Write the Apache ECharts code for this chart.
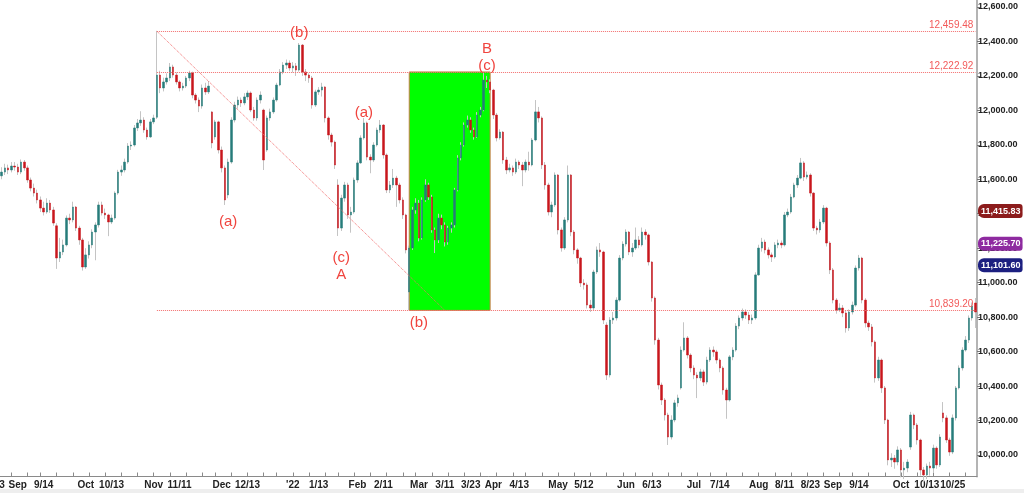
<!DOCTYPE html>
<html><head><meta charset="utf-8">
<script src="https://cdn.jsdelivr.net/npm/echarts@6/dist/echarts.min.js"></script>
<style>html,body{margin:0;padding:0;background:#fff}#c{width:1024px;height:493px}</style>
</head><body><div id="c"></div>
<script>
// trading calendar (categories)
const firstDay = '2021-08-23';
const lastDay = '2022-11-03';
const holidays = ['2021-09-06','2021-11-25','2021-12-24','2022-01-17','2022-02-21','2022-04-15','2022-05-30','2022-06-20','2022-07-04','2022-09-05'];
const dataStart = '2021-08-25';

// daily [open, close, low, high], from 2021-08-25
const ohlc = [
[11620,11642,11600,11670],[11642,11666,11625,11690],[11666,11654,11630,11685],[11654,11677,11640,11700],[11677,11671,11650,11700],
[11671,11642,11625,11690],[11642,11700,11630,11715],[11700,11666,11650,11712],[11666,11596,11580,11680],[11596,11549,11530,11610],
[11549,11520,11500,11575],[11520,11480,11460,11540],[11480,11433,11410,11500],[11433,11410,11390,11470],[11410,11462,11400,11490],
[11462,11422,11405,11480],[11422,11346,11330,11440],[11330,11143,11080,11345],[11143,11178,11120,11260],[11178,11219,11160,11250],
[11219,11375,11210,11390],[11375,11364,11340,11400],[11364,11439,11350,11470],[11439,11317,11300,11445],[11317,11248,11220,11330],
[11248,11091,11070,11260],[11091,11161,11080,11200],[11161,11219,11140,11240],[11219,11294,11200,11310],[11294,11335,11130,11350],
[11335,11451,11320,11470],[11451,11404,11390,11470],[11404,11393,11370,11430],[11393,11352,11270,11400],[11352,11375,11340,11395],
[11375,11520,11365,11530],[11520,11642,11510,11655],[11642,11654,11620,11680],[11654,11700,11640,11720],[11700,11793,11690,11810],
[11793,11799,11770,11820],[11799,11898,11790,11915],[11898,11927,11880,11950],[11927,11944,11910,11995],[11944,11886,11870,11960],
[11886,11846,11830,11900],[11846,11933,11840,11950],[11933,11956,11920,11975],[11960,12205,11950,12461],[12205,12130,12100,12230],
[12130,12165,12110,12190],[12165,12188,12150,12215],[12188,12252,12170,12275],[12252,12205,12190,12265],[12205,12165,12150,12220],
[12165,12130,12110,12175],[12130,12141,12115,12160],[12141,12188,12130,12200],[12188,12217,12170,12230],[12217,12089,12070,12225],
[12089,12060,12040,12100],[12060,12025,11990,12075],[12025,12130,12010,12150],[12130,12107,12090,12160],[12107,12141,12095,12170],
[11991,11811,11780,11995],[11846,11933,11830,11945],[11933,11770,11750,11940],[11770,11666,11640,11790],[11666,11480,11451,11680],
[11509,11700,11490,11720],[11700,11944,11690,11960],[11944,12031,11930,12050],[12031,12060,12010,12080],[12060,12043,12020,12075],
[12043,12078,12030,12100],[12078,12101,12060,12115],[12101,12002,11990,12110],[12002,11956,11940,12020],[11956,12060,11940,12075],
[12060,12089,12040,12110],[12002,11712,11654,12010],[11770,11956,11760,11970],[11956,11991,11940,12010],[11991,12060,11980,12075],
[12060,12147,12050,12160],[12147,12223,12140,12240],[12223,12263,12210,12280],[12263,12275,12240,12295],[12275,12246,12230,12290],
[12246,12258,12220,12280],[12258,12234,12200,12275],[12234,12379,12225,12391],[12379,12223,12200,12385],[12223,12205,12170,12240],
[12205,12188,12160,12215],[12188,12031,12010,12200],[12031,12107,12020,12120],[12107,12118,12090,12135],[12118,12136,12080,12160],
[12136,11956,11930,12140],[11956,11857,11830,11965],[11857,11816,11790,11870],[11816,11683,11660,11825],[11567,11317,11271,11600],
[11317,11491,11300,11510],[11491,11567,11470,11585],[11567,11393,11370,11580],[11393,11410,11290,11440],[11410,11596,11400,11610],
[11596,11695,11580,11710],[11695,11840,11690,11855],[11840,11927,11830,11956],[11927,11729,11710,11935],[11729,11712,11635,11745],
[11712,11799,11700,11815],[11799,11886,11790,11900],[11886,11915,11870,11944],[11915,11741,11720,11920],[11741,11538,11520,11750],
[11538,11567,11520,11590],[11567,11607,11550,11660],[11607,11567,11440,11620],[11567,11480,11460,11580],[11480,11393,11370,11495],
[11393,11190,11170,11400],[10946,11201,10841,11215],[11201,11422,11190,11440],[11422,11462,11400,11490],[11462,11259,11240,11480],
[11259,11480,11250,11495],[11480,11567,11470,11600],[11567,11497,11480,11580],[11497,11306,11290,11510],[11306,11248,11172,11320],
[11248,11375,11230,11400],[11375,11335,11310,11395],[11335,11236,11210,11350],[11236,11317,11220,11330],[11317,11335,11290,11350],
[11335,11538,11320,11550],[11538,11724,11530,11740],[11724,11799,11710,11815],[11799,11915,11790,11930],[11915,11944,11900,11970],
[11944,11886,11870,11960],[11886,11846,11830,11900],[11846,11973,11840,11990],[11973,12002,11960,12020],[12002,12176,11995,12217],
[12176,12165,12130,12200],[12165,12118,12100,12180],[12118,11973,11950,12125],[11973,11840,11820,11985],[11840,11874,11830,11890],
[11874,11712,11690,11880],[11712,11654,11630,11730],[11654,11666,11640,11690],[11666,11642,11620,11680],[11642,11700,11630,11720],
[11700,11683,11660,11710],[11683,11654,11560,11700],[11654,11700,11640,11715],[11700,11683,11650,11760],[11683,11828,11675,11840],
[11828,11991,11820,12060],[11991,11956,11930,12020],[11956,11683,11660,11965],[11683,11567,11540,11700],[11567,11410,11390,11580],
[11410,11451,11380,11470],[11451,11625,11440,11640],[11625,11306,11280,11630],[11306,11201,11180,11320],[11201,11364,11190,11380],
[11364,11625,11350,11680],[11625,11294,11270,11630],[11294,11190,11165,11305],[11190,11143,11110,11200],[11143,10998,10975,11150],
[10998,10987,10960,11020],[10987,10870,10850,11000],[10870,10853,10830,10900],[10853,11062,10840,11075],[11062,11190,11050,11210],
[11190,11178,11150,11230],[11178,10783,10760,11185],[10754,10464,10435,10770],[10464,10783,10450,10800],[10783,10795,10760,10830],
[10795,10899,10780,10915],[10899,11143,10890,11160],[11143,11224,11130,11240],[11224,11294,11210,11310],[11294,11178,11160,11300],
[11178,11201,11150,11230],[11201,11248,11190,11320],[11248,11219,11200,11270],[11219,11294,11210,11320],[11294,11277,11250,11310],
[11277,11120,11100,11285],[11120,10911,10890,11125],[10911,10667,10640,10920],[10667,10406,10380,10680],[10406,10319,10290,10420],
[10319,10232,10200,10330],[10232,10104,10058,10245],[10104,10203,10090,10230],[10203,10302,10190,10320],[10302,10331,10280,10350],
[10389,10609,10380,10630],[10609,10679,10600,10770],[10679,10580,10560,10690],[10580,10505,10480,10590],[10505,10464,10440,10520],
[10464,10447,10330,10480],[10447,10482,10430,10500],[10482,10423,10400,10495],[10423,10551,10410,10570],[10551,10609,10540,10625],
[10609,10598,10570,10630],[10598,10551,10530,10610],[10551,10505,10480,10560],[10505,10377,10350,10515],[10377,10319,10210,10390],
[10319,10569,10310,10580],[10569,10609,10550,10625],[10609,10748,10600,10765],[10748,10795,10730,10810],[10795,10830,10780,10850],
[10830,10812,10790,10845],[10812,10783,10760,10830],[10783,10795,10760,10815],[10795,11045,10785,11060],[11045,11201,11040,11220],
[11201,11236,11180,11260],[11236,11190,11170,11250],[11190,11161,11140,11205],[11161,11149,11120,11175],[11149,11219,11140,11235],
[11219,11230,11200,11250],[11230,11219,11200,11245],[11219,11393,11210,11410],[11393,11410,11380,11430],[11410,11497,11400,11515],
[11497,11567,11490,11580],[11567,11607,11550,11625],[11607,11695,11600,11724],[11695,11613,11590,11705],[11613,11625,11600,11645],
[11625,11520,11500,11635],[11520,11317,11300,11525],[11317,11306,11280,11330],[11306,11352,11290,11370],[11352,11433,11340,11450],
[11433,11230,11210,11440],[11230,11074,11050,11240],[11074,10899,10880,11085],[10899,10841,10820,10910],[10841,10853,10830,10880],
[10853,10824,10800,10870],[10824,10737,10710,10840],[10737,10830,10720,10845],[10830,10870,10815,10890],[10870,11085,10860,11100],
[11085,11143,11070,11161],[11143,10899,10880,11150],[10899,10766,10740,10910],[10766,10743,10720,10780],[10743,10656,10630,10760],
[10656,10447,10420,10665],[10447,10551,10430,10570],[10551,10389,10360,10560],[10389,10203,10180,10400],[10203,9971,9940,10210],
[9971,9982,9930,10010],[9982,9959,9920,10000],[9959,10029,9940,10050],[10029,9913,9870,10040],[9913,9924,9860,9960],
[9924,9959,9900,9975],[10046,10232,10030,10250],[10232,10174,10150,10240],[10174,10087,10060,10185],[10087,9913,9880,10095],
[9913,9884,9840,9930],[9884,9936,9860,9950],[9936,9924,9880,9960],[9924,10040,9900,10060],[10040,9942,9920,10050],
[9942,10104,9930,10120],[10244,10215,10190,10307],[10215,10087,10070,10230],[10087,10017,9995,10100],[10017,10215,10005,10235],
[10215,10389,10200,10400],[10389,10505,10380,10520],[10505,10609,10490,10625],[10609,10667,10600,10690],[10667,10795,10650,10810],
[10795,10865,10780,10885],[10882,10830,10737,10911]
];

// x tick labels
const tickLabels = {
'2021-08-23':'8/23','2021-09-01':'Sep','2021-09-14':'9/14','2021-10-01':'Oct','2021-10-13':'10/13','2021-11-01':'Nov','2021-11-11':'11/11',
'2021-12-01':'Dec','2021-12-13':'12/13','2022-01-03':"'22",'2022-01-13':'1/13','2022-02-01':'Feb','2022-02-11':'2/11','2022-03-01':'Mar',
'2022-03-11':'3/11','2022-03-23':'3/23','2022-04-01':'Apr','2022-04-13':'4/13','2022-05-02':'May','2022-05-12':'5/12','2022-06-01':'Jun',
'2022-06-13':'6/13','2022-07-01':'Jul','2022-07-14':'7/14','2022-08-01':'Aug','2022-08-11':'8/11','2022-08-23':'8/23','2022-09-01':'Sep',
'2022-09-14':'9/14','2022-10-03':'Oct','2022-10-13':'10/13','2022-10-25':'10/25'
};

// price levels and study values
const levelStart = '2021-11-02';
const levels = [12459.48, 12222.92, 10839.20];
const diagonal = [['2021-11-02', 12459.48], ['2022-03-11', 10839.20]];
const boxRange = [['2022-02-24', 12222.92], ['2022-03-31', 10839.20]];
const badges = [[11415.83, '#8c1c1c'], [11225.70, '#8e2aa0'], [11101.60, '#1c1f80']];
const annotations = [
['(b)','2022-01-05',12449],['(a)','2021-12-03',11352],['(c)','2022-01-25',11143],['A','2022-01-25',11045],
['(a)','2022-02-03',11985],['B','2022-03-30',12356],['(c)','2022-03-30',12258],['(b)','2022-03-01',10766]
];

// ---- build ----
function ymd(d){return d.toISOString().slice(0,10);}
const dates = [];
for (let d = new Date(firstDay+'T00:00:00Z'); ymd(d) <= lastDay; d.setUTCDate(d.getUTCDate()+1)) {
  const wd = d.getUTCDay(), s = ymd(d);
  if (wd !== 0 && wd !== 6 && holidays.indexOf(s) < 0) dates.push(s);
}
const offset = dates.indexOf(dataStart);
const full = dates.map((d, i) => {
  const r = ohlc[i - offset];
  return r ? [r[0], r[1], r[2], r[3]] : '-';
});
const bodies = dates.map((d, i) => {
  const r = ohlc[i - offset];
  return r ? [r[0], r[1], Math.min(r[0], r[1]), Math.max(r[0], r[1])] : '-';
});
function fmt(v){
  const s = v.toFixed(2); const p = s.split('.');
  return p[0].replace(/\B(?=(\d{3})+(?!\d))/g, ',') + '.' + p[1];
}
const weekStarts = {};
for (let i = 1; i < dates.length; i++) {
  const d = new Date(dates[i]+'T00:00:00Z');
  const prev = new Date(dates[i-1]+'T00:00:00Z');
  if (d.getUTCDay() < prev.getUTCDay() || (d - prev) > 3*86400000) weekStarts[dates[i]] = true;
}

const FONT = 'Liberation Sans, Arial, sans-serif';
const RED_TXT = '#f0443e';
const LINE_RED = '#f36d6d';

const levelLines = [];
levels.forEach(v => {
  levelLines.push([
    {coord: [levelStart, v], label: {show: true, position: 'insideEndTop', formatter: fmt(v), color: '#f25a5a', fontSize: 10, fontFamily: FONT, distance: [2, 1]}},
    {coord: [dates[dates.length-1], v]}
  ]);
});
levelLines.push([{coord: diagonal[0], label: {show: false}}, {coord: diagonal[1]}]);
const badgeLines = badges.map(b => ({yAxis: b[0], label: {
    show: true, position: 'end', distance: 1, formatter: fmt(b[0]), color: '#fff', backgroundColor: b[1],
    padding: [3, 2, 2, 3], borderRadius: [6, 3, 3, 6], fontSize: 9, fontWeight: 'bold', fontFamily: FONT}}));

const chart = echarts.init(document.getElementById('c'), null, {renderer: 'canvas'});
chart.setOption({
  animation: false,
  backgroundColor: '#fff',
  grid: {left: -6.47, right: 47, top: 0, bottom: 16.5, containLabel: false, outerBoundsMode: 'none'},
  xAxis: {
    type: 'category', data: dates, boundaryGap: true,
    axisLine: {lineStyle: {color: '#8a8a8a', width: 1}},
    axisTick: {show: true, inside: true, length: 4, alignWithLabel: true, lineStyle: {color: '#8a8a8a'},
      interval: (i, v) => !!weekStarts[v]},
    axisLabel: {interval: (i, v) => tickLabels[v] !== undefined, formatter: v => tickLabels[v] || '',
      color: '#222', fontSize: 10, fontWeight: 'bold', fontFamily: FONT, margin: 4, hideOverlap: false},
    splitLine: {show: false}
  },
  yAxis: {
    type: 'value', position: 'right', scale: true, min: 9875, max: 12640.6,
    splitNumber: 14, minInterval: 200, maxInterval: 200,
    axisLine: {show: true, lineStyle: {color: '#b4b4b4', width: 2}},
    axisTick: {show: true, length: 3, lineStyle: {color: '#777'}},
    axisLabel: {showMinLabel: false, showMaxLabel: false, margin: 1, color: '#222', fontSize: 9, fontWeight: 'bold', fontFamily: FONT,
      formatter: v => (Math.abs(v / 200 - Math.round(v / 200)) < 1e-6) ? fmt(v) : ''},
    splitLine: {show: false}
  },
  graphic: [{type: 'rect', left: 0, bottom: 0, shape: {width: 1024, height: 4}, style: {fill: '#eeeeee'}, z: -1}],
  series: [
    {type: 'candlestick', name: 'range', data: full, barWidth: 1, z: 2,
      itemStyle: {color: '#c4c4c4', color0: '#c4c4c4', borderColor: '#c4c4c4', borderColor0: '#c4c4c4', borderWidth: 1},
      markLine: {silent: true, symbol: ['none', 'none'], z: 10,
        lineStyle: {type: 'solid', color: 'rgba(0,0,0,0)', width: 0},
        data: badgeLines}
    },
    {type: 'candlestick', name: 'body', data: bodies, barWidth: 2, z: 3,
      itemStyle: {color: '#267c7a', color0: '#c8161d', borderColor: '#267c7a', borderColor0: '#c8161d', borderWidth: 0.5},
      markArea: {silent: true, itemStyle: {color: '#00ff00', borderColor: '#c97a44', borderWidth: 1},
        data: [[{coord: boxRange[0]}, {coord: boxRange[1]}]]},
      markLine: {silent: true, symbol: ['none', 'none'], lineStyle: {type: 'dotted', color: LINE_RED, width: 1},
        label: {show: false}, data: levelLines},
      markPoint: {silent: true, symbol: 'rect', symbolSize: 1, itemStyle: {color: 'rgba(0,0,0,0)'},
        label: {show: true, position: 'inside', color: RED_TXT, fontSize: 15, fontFamily: FONT},
        data: annotations.map(a => ({coord: [a[1], a[2]], label: {formatter: a[0]}}))}
    }
  ]
});
</script></body></html>
